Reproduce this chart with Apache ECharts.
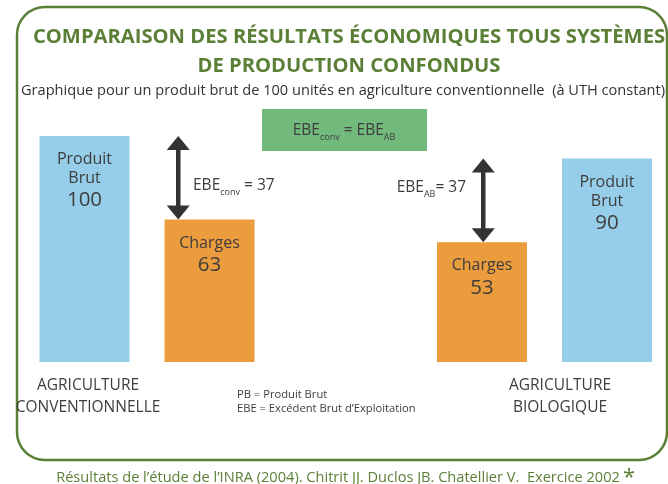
<!DOCTYPE html>
<html><head><meta charset="utf-8">
<script src="https://cdn.jsdelivr.net/npm/echarts@6/dist/echarts.min.js"></script>
<style>html,body{margin:0;padding:0;background:#fff}#c{width:668px;height:484px}</style>
</head><body><div id="c"></div>
<script>
// ---- data ----
const barNames = ['Produit\nBrut', 'Charges', 'Charges', 'Produit\nBrut'];
const barKinds = ['pb', 'ch', 'ch', 'pb'];
const barPositions = [0.5, 1.5, 3.68, 4.68];
const barValues = [100, 63, 53, 90];
const ebeSystems = ['conv', 'AB'];
const ebePositions = [1.25, 3.69];
const ebeTop = [100, 90];
const ebeBottom = [63, 53];
const ebeValues = [37, 37];
const systemLabels = ['AGRICULTURE\nCONVENTIONNELLE', 'AGRICULTURE\nBIOLOGIQUE'];

const FONT = '"Open Sans", "Noto Sans", sans-serif';
const GREEN = '#5b7f36';
const TXT = '#3d3d3d';
const colors = { pb: '#96cde8', ch: '#eb9c3c' };

const barData = barValues.map((v, i) => ({
  value: [barPositions[i], v],
  itemStyle: { color: colors[barKinds[i]] },
  label: {
    formatter: barNames[i].split('\n').map(s => '{t|' + s + '}').join('\n') + '\n{n|' + v + '}'
  }
}));

const arrowData = ebePositions.map((x, i) => [x, ebeTop[i], ebeBottom[i]]);

const subRich = {
  m: { fontSize: 15.5, lineHeight: 19, verticalAlign: 'top', fill: TXT, fontFamily: FONT },
  s: { fontSize: 9, lineHeight: 9, verticalAlign: 'bottom', fill: TXT, fontFamily: FONT }
};

const chart = echarts.init(document.getElementById('c'), null, { renderer: 'canvas' });
chart.setOption({
  animation: false,
  backgroundColor: '#ffffff',
  textStyle: { fontFamily: FONT },
  title: [
    {
      text: 'COMPARAISON DES RÉSULTATS ÉCONOMIQUES TOUS SYSTÈMES\nDE PRODUCTION CONFONDUS',
      left: 349, top: 23, textAlign: 'center', padding: 0,
      textStyle: { fontFamily: FONT, fontWeight: 'bold', fontSize: 20.2, lineHeight: 29, color: GREEN }
    },
    {
      text: 'Graphique pour un produit brut de 100 unités en agriculture conventionnelle  (à UTH constant)',
      left: 343, top: 82, textAlign: 'center', padding: 0,
      textStyle: { fontFamily: FONT, fontWeight: 'normal', fontSize: 14.6, lineHeight: 18, color: '#333' }
    }
  ],
  grid: { left: 22, right: 0, top: 136, bottom: 122 },
  xAxis: { type: 'value', min: 0, max: 5.168, show: false },
  yAxis: { type: 'value', min: 0, max: 100, show: false },
  series: [
    {
      type: 'bar',
      data: barData,
      barWidth: 90,
      clip: false,
      label: {
        show: true, position: 'insideTop', distance: 14,
        color: TXT, fontFamily: FONT,
        rich: {
          t: { fontSize: 16, lineHeight: 19, color: TXT, fontFamily: FONT },
          n: { fontSize: 20.5, lineHeight: 25, color: TXT, fontFamily: FONT }
        }
      }
    },
    {
      type: 'custom',
      data: arrowData,
      encode: { x: 0, y: [1, 2] },
      clip: false,
      renderItem: function (params, api) {
        const top = api.coord([api.value(0), api.value(1)]);
        const bot = api.coord([api.value(0), api.value(2)]);
        const hw = 11.5, hh = 14;
        const c = '#333333';
        return {
          type: 'group',
          children: [
            { type: 'line', shape: { x1: top[0], y1: top[1] + hh - 1, x2: bot[0], y2: bot[1] - hh + 1 },
              style: { stroke: c, lineWidth: 4.5 } },
            { type: 'polygon', shape: { points: [[top[0], top[1]], [top[0] - hw, top[1] + hh], [top[0] + hw, top[1] + hh]] },
              style: { fill: c } },
            { type: 'polygon', shape: { points: [[bot[0], bot[1]], [bot[0] - hw, bot[1] - hh], [bot[0] + hw, bot[1] - hh]] },
              style: { fill: c } }
          ]
        };
      }
    }
  ],
  graphic: [
    { type: 'rect', shape: { x: 17, y: 7, width: 650, height: 453, r: 28 },
      style: { fill: 'none', stroke: GREEN, lineWidth: 2.5 }, z: 0 },
    { type: 'rect', shape: { x: 262, y: 109, width: 165, height: 42 },
      style: { fill: '#72b97c' } },
    { type: 'text', x: 344, y: 132,
      style: {
        text: '{m|EBE}{s|' + ebeSystems[0] + '}{m| = EBE}{s|' + ebeSystems[1] + '}',
        align: 'center', verticalAlign: 'middle', rich: subRich
      } },
    { type: 'text', x: 193, y: 187,
      style: {
        text: '{m|EBE}{s|' + ebeSystems[0] + '}{m| = ' + ebeValues[0] + '}',
        align: 'left', verticalAlign: 'middle', rich: subRich
      } },
    { type: 'text', x: 466, y: 189,
      style: {
        text: '{m|EBE}{s|' + ebeSystems[1] + '}{m|= ' + ebeValues[1] + '}',
        align: 'right', verticalAlign: 'middle', rich: subRich
      } },
    { type: 'text', x: 88, y: 397,
      style: { text: systemLabels[0], align: 'center', verticalAlign: 'middle',
        fontSize: 15.5, lineHeight: 22, fill: TXT, fontFamily: FONT } },
    { type: 'text', x: 560, y: 397,
      style: { text: systemLabels[1], align: 'center', verticalAlign: 'middle',
        fontSize: 15.5, lineHeight: 22, fill: TXT, fontFamily: FONT } },
    { type: 'text', x: 237, y: 402,
      style: { text: 'PB = Produit Brut\nEBE = Excédent Brut d\u2019Exploitation', align: 'left', verticalAlign: 'middle',
        fontSize: 11.2, lineHeight: 14, fill: TXT, fontFamily: FONT } },
    { type: 'text', x: 338, y: 478,
      style: { text: 'Résultats de l\u2019étude de l\u2019INRA (2004). Chitrit JJ. Duclos JB. Chatellier V.  Exercice 2002',
        align: 'center', verticalAlign: 'middle', fontSize: 14.6, fill: GREEN, fontFamily: FONT } },
    { type: 'text', x: 629, y: 478,
      style: { text: '*', align: 'center', verticalAlign: 'middle', fontSize: 22, fill: GREEN, fontFamily: FONT } }
  ]
});
</script>
</body></html>
